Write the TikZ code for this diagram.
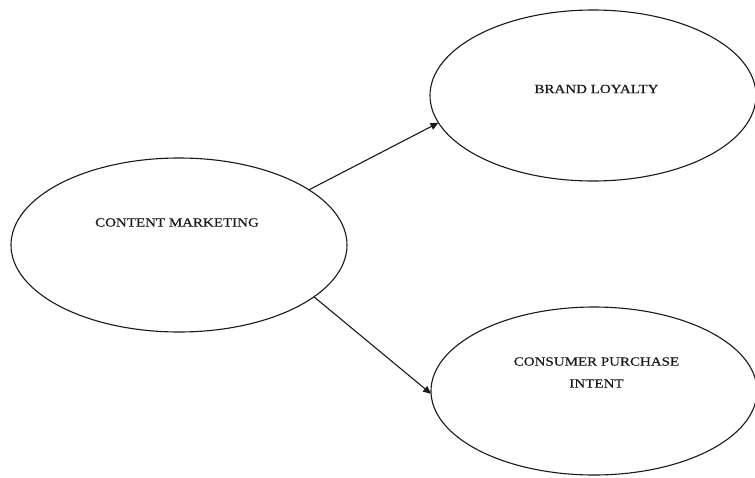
\documentclass[tikz,border=0pt]{standalone}
\usepackage{fontspec}
\setmainfont{Liberation Serif}[FakeStretch=1.2,FakeBold=0.4]
\usetikzlibrary{shapes.geometric,arrows.meta}
\tikzset{
  oval/.style={ellipse, draw=black!90, line width=1.1pt, inner sep=0pt, outer sep=0pt},
  lbl/.style={font=\fontsize{12.5}{22}\selectfont, align=center, inner sep=0pt, text=black!90},
  conn/.style={draw=black!90, line width=1.1pt, -{Triangle[length=8pt,width=7pt]}}
}
\begin{document}
\begin{tikzpicture}[x=1pt,y=-1pt]
\useasboundingbox (0,0) rectangle (755,477);
\node[oval, minimum width=336pt, minimum height=174pt] (cm) at (179,245) {};
\node[oval, minimum width=326pt, minimum height=171pt] (bl) at (593,95.5) {};
\node[oval, minimum width=326pt, minimum height=168pt] (cpi) at (594,391) {};
\node[lbl] (cmt) at (177,222.5) {CONTENT MARKETING};
\node[lbl] (blt) at (596.5,89) {BRAND LOYALTY};
\node[lbl] (cpit) at (596.5,372.5) {CONSUMER PURCHASE\\INTENT};
\draw[conn] (cm.23) -- (bl.190);
\draw[conn] (cm.-21) -- (cpi.181);
\end{tikzpicture}
\end{document}
